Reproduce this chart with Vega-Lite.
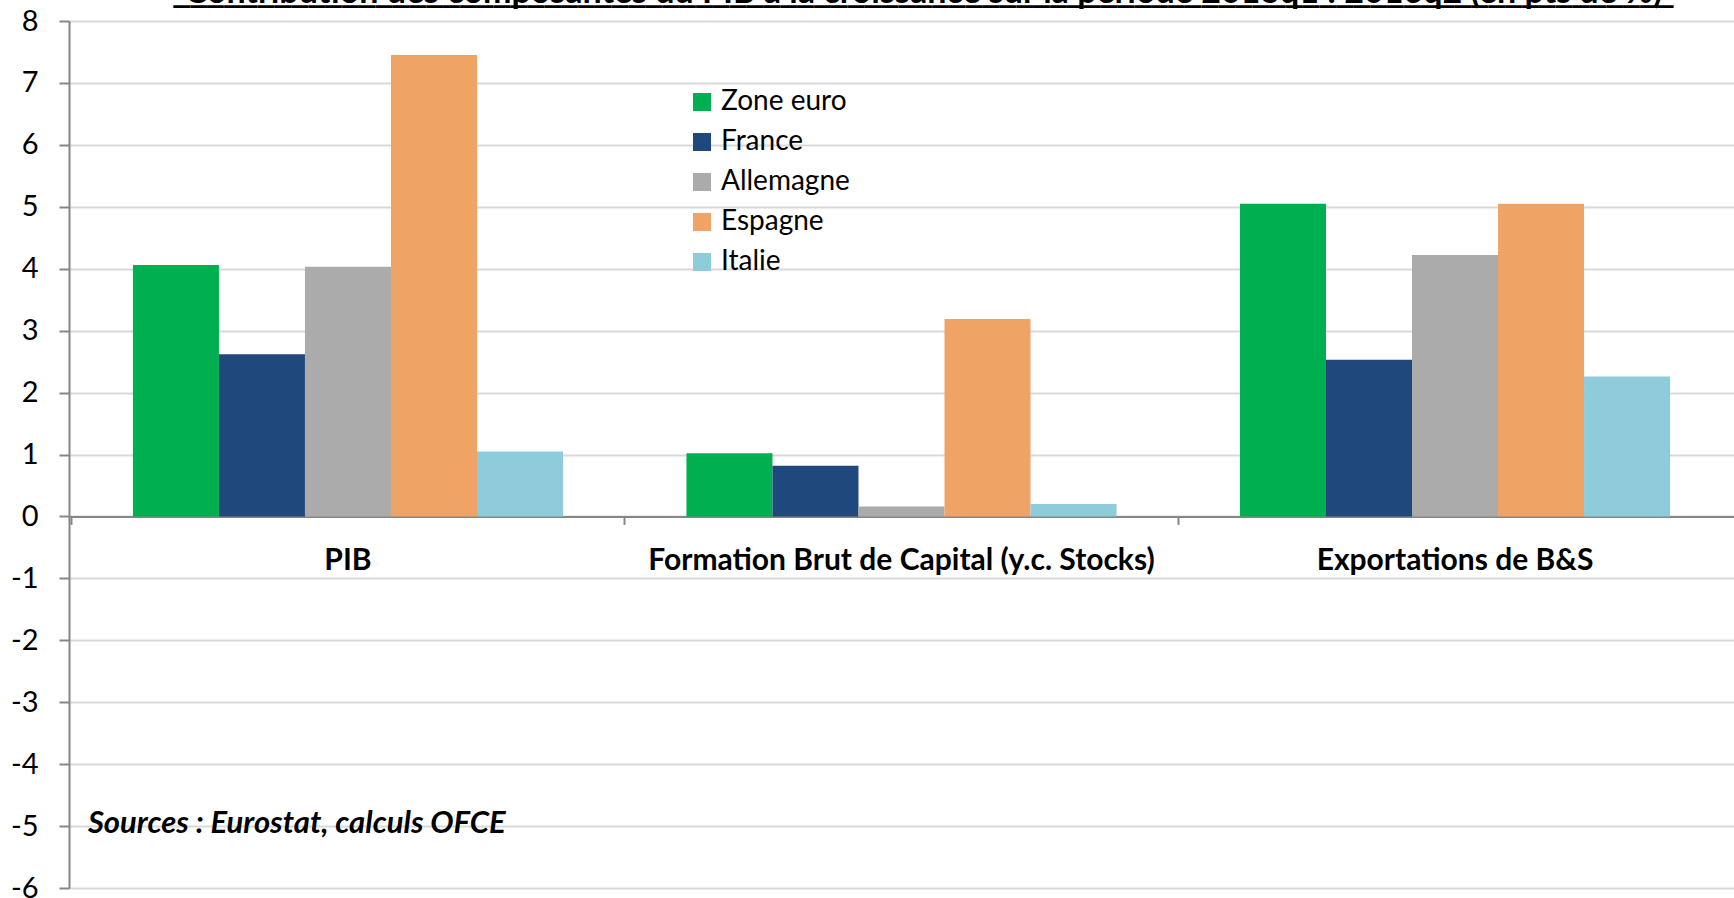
{
  "$schema": "https://vega.github.io/schema/vega-lite/v6.json",
  "width": 1665,
  "height": 867,
  "autosize": {"type": "none"},
  "padding": {"left": 69, "top": 21, "right": 0, "bottom": 10},
  "background": "white",
  "title": {
    "text": "Contribution des composantes du PIB à la croissance sur la période 2013q1 : 2016q2 (en pts de %)",
    "font": "Lato",
    "fontSize": 34,
    "fontWeight": "bold",
    "color": "black",
    "anchor": "middle",
    "frame": "group",
    "dx": 22,
    "offset": -2.5,
    "subtitle": "_________________________________________________________________________________________",
    "subtitleFont": "DejaVu Sans Mono",
    "subtitleFontSize": 28,
    "subtitleFontWeight": "bold",
    "subtitleColor": "black",
    "subtitlePadding": -31
  },
  "config": {"view": {"stroke": null}, "font": "Lato"},
  "layer": [
    {
      "data": {
        "values": [
          {"cat": "PIB", "country": "Zone euro", "value": 4.06},
          {"cat": "PIB", "country": "France", "value": 2.62},
          {"cat": "PIB", "country": "Allemagne", "value": 4.03},
          {"cat": "PIB", "country": "Espagne", "value": 7.45},
          {"cat": "PIB", "country": "Italie", "value": 1.05},
          {"cat": "Formation Brut de Capital (y.c. Stocks)", "country": "Zone euro", "value": 1.02},
          {"cat": "Formation Brut de Capital (y.c. Stocks)", "country": "France", "value": 0.82},
          {"cat": "Formation Brut de Capital (y.c. Stocks)", "country": "Allemagne", "value": 0.16},
          {"cat": "Formation Brut de Capital (y.c. Stocks)", "country": "Espagne", "value": 3.19},
          {"cat": "Formation Brut de Capital (y.c. Stocks)", "country": "Italie", "value": 0.2},
          {"cat": "Exportations de B&S", "country": "Zone euro", "value": 5.05},
          {"cat": "Exportations de B&S", "country": "France", "value": 2.53},
          {"cat": "Exportations de B&S", "country": "Allemagne", "value": 4.22},
          {"cat": "Exportations de B&S", "country": "Espagne", "value": 5.05},
          {"cat": "Exportations de B&S", "country": "Italie", "value": 2.26}
        ]
      },
      "mark": {"type": "bar"},
      "encoding": {
        "x": {
          "field": "cat",
          "type": "nominal",
          "sort": ["PIB", "Formation Brut de Capital (y.c. Stocks)", "Exportations de B&S"],
          "scale": {"paddingInner": 0.223, "paddingOuter": 0.1155},
          "axis": {
            "orient": "bottom",
            "offset": -371.6,
            "title": null,
            "ticks": false,
            "grid": false,
            "domain": true,
            "domainColor": "#868686",
            "domainWidth": 2,
            "labelPadding": 29,
            "labelFont": "Lato",
            "labelFontSize": 30,
            "labelFontWeight": "bold",
            "labelColor": "black",
            "labelAngle": 0,
            "labelLimit": 0
          }
        },
        "xOffset": {
          "field": "country",
          "type": "nominal",
          "sort": ["Zone euro", "France", "Allemagne", "Espagne", "Italie"],
          "scale": {"paddingInner": 0, "paddingOuter": 0}
        },
        "y": {
          "field": "value",
          "type": "quantitative",
          "scale": {"domain": [-6, 8], "nice": false, "zero": false},
          "axis": {
            "title": null,
            "values": [-6, -5, -4, -3, -2, -1, 0, 1, 2, 3, 4, 5, 6, 7, 8],
            "labelExpr": "datum.value + ''",
            "grid": true,
            "gridColor": "#D9D9D9",
            "gridWidth": 2,
            "domainColor": "#868686",
            "domainWidth": 2,
            "tickColor": "#868686",
            "tickWidth": 2,
            "tickSize": 10,
            "labelPadding": 21,
            "labelFont": "Lato",
            "labelFontSize": 29,
            "labelColor": "black"
          }
        },
        "color": {
          "field": "country",
          "type": "nominal",
          "sort": ["Zone euro", "France", "Allemagne", "Espagne", "Italie"],
          "scale": {
            "domain": ["Zone euro", "France", "Allemagne", "Espagne", "Italie"],
            "range": ["#00B050", "#1F497D", "#ABABAB", "#EFA466", "#8ECBDB"]
          },
          "legend": {
            "orient": "none",
            "legendX": 619,
            "legendY": 67,
            "title": null,
            "symbolType": "square",
            "symbolSize": 324,
            "symbolStrokeWidth": 0,
            "labelFont": "Lato",
            "labelFontSize": 28,
            "labelColor": "black",
            "labelOffset": 5,
            "rowPadding": 12,
            "padding": 0
          }
        }
      }
    },
    {
      "data": {"values": [{"note": "Sources : Eurostat, calculs OFCE", "cat": "PIB", "y": -5}]},
      "mark": {"type": "text", "align": "left", "baseline": "middle", "font": "Lato", "fontStyle": "italic", "fontWeight": "bold", "fontSize": 31, "color": "black", "dx": -45, "dy": -2},
      "encoding": {
        "x": {
          "field": "cat",
          "type": "nominal",
          "sort": ["PIB", "Formation Brut de Capital (y.c. Stocks)", "Exportations de B&S"],
          "bandPosition": 0,
          "axis": {
            "orient": "bottom",
            "offset": -371.6,
            "title": null,
            "labels": false,
            "domain": false,
            "grid": false,
            "ticks": true,
            "tickSize": 8,
            "tickColor": "#868686",
            "tickWidth": 2,
            "bandPosition": -0.1435
          }
        },
        "y": {"field": "y", "type": "quantitative", "axis": {"title": null}},
        "text": {"field": "note"}
      }
    }
  ],
  "resolve": {"axis": {"x": "independent"}}
}
